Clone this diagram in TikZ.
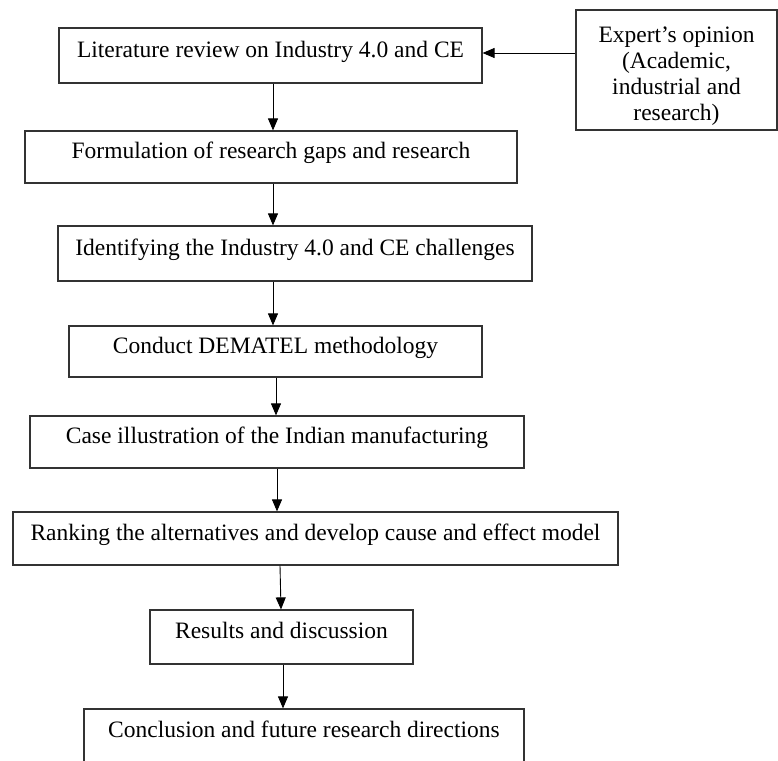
\documentclass[tikz,border=0pt]{standalone}
\usepackage{fontspec}
\setmainfont{Liberation Serif}
\usetikzlibrary{arrows.meta}

\begin{document}
\begin{tikzpicture}[x=1pt, y=-1pt,
  every node/.style={draw=black!80, line width=1.2pt, inner sep=0pt,
    font=\fontsize{23.5}{26}\selectfont, text height=17pt, text depth=14pt},
  flow/.style={-{Triangle[length=12pt, width=10pt]}, line width=0.9pt}]

  % Marco fijo de la imagen
  \useasboundingbox (0,0) rectangle (778,760);

  % Pasos de la metodologia
  \node (lit)   at (270.5,55.5) [minimum width=423pt, minimum height=55pt] {Literature review on Industry 4.0 and CE};
  \node (gaps)  at (271,157)    [minimum width=492pt, minimum height=52pt] {Formulation of research gaps and research};
  \node (chal)  at (295,253.5)  [minimum width=474pt, minimum height=55pt] {Identifying the Industry 4.0 and CE challenges};
  \node (dem)   at (275.5,351.5)[minimum width=413pt, minimum height=51pt] {Conduct DEMATEL methodology};
  \node (case)  at (277,442)    [minimum width=494pt, minimum height=52pt] {Case illustration of the Indian manufacturing};
  \node (rank)  at (315.5,538.5)[minimum width=605pt, minimum height=53pt] {Ranking the alternatives and develop cause and effect model};
  \node (res)   at (281.5,637)  [minimum width=263pt, minimum height=54pt] {Results and discussion};
  \node (concl) at (304,735.5)  [minimum width=440pt, minimum height=53pt] {Conclusion and future research directions};

  % Opinion de expertos
  \node (expert) at (676.5,70) [minimum width=201pt, minimum height=120pt,
    align=center, text height=, text depth=]
    {\rule{0pt}{29pt}Expert’s opinion\\(Academic,\\industrial and\\research)};

  % Flechas
  \draw[flow] ([yshift=17pt]expert.west) -- ([yshift=2.5pt]lit.east);
  \draw[flow] ([xshift=2.5pt]lit.south)   -- ([xshift=2pt]gaps.north);
  \draw[flow] ([xshift=2pt]gaps.south)    -- ([xshift=-22pt]chal.north);
  \draw[flow] ([xshift=-22pt]chal.south)  -- ([xshift=-2.5pt]dem.north);
  \draw[flow] ([xshift=0.5pt]dem.south)   -- ([xshift=-1pt]case.north);
  \draw[flow] (case.south)                -- ([xshift=-38.5pt]rank.north);
  \draw[flow] ([xshift=-35.5pt]rank.south)-- ([xshift=-0.5pt]res.north);
  \draw[flow] ([xshift=1.5pt]res.south)   -- ([xshift=-21pt]concl.north);
\end{tikzpicture}
\end{document}
